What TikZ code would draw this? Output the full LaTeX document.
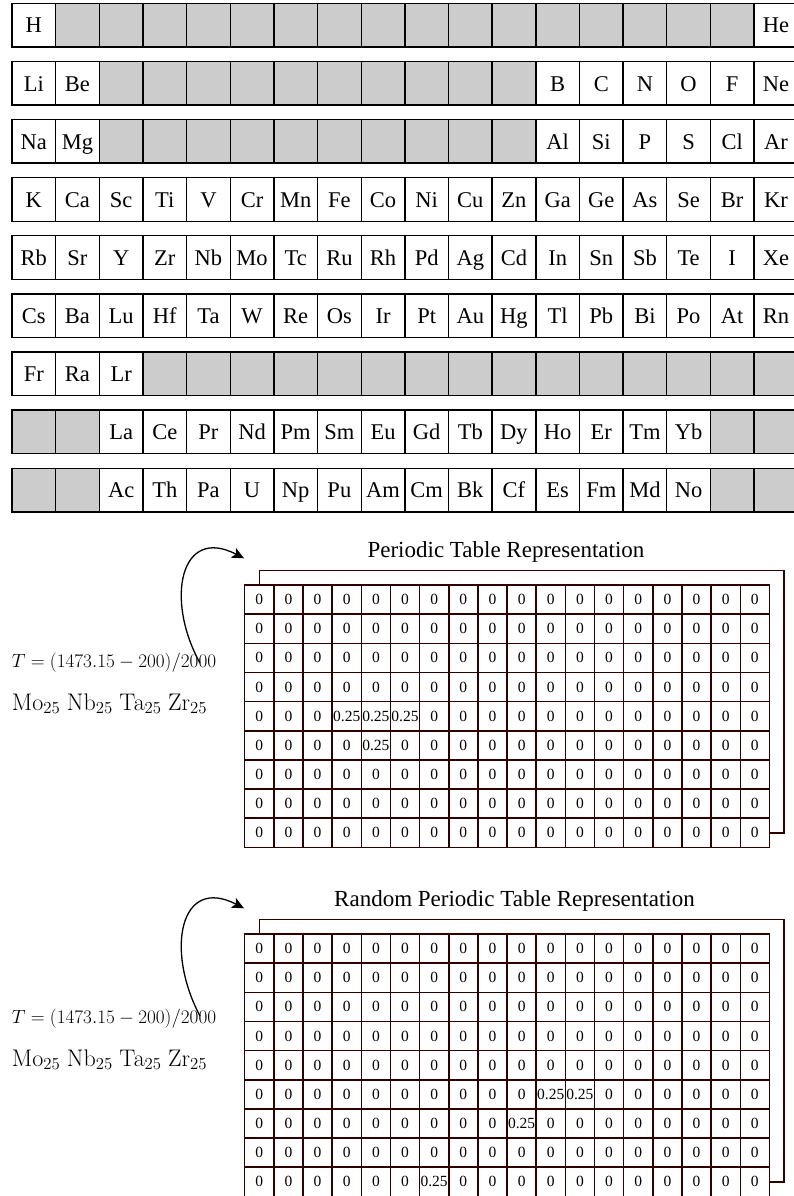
\RequirePackage{fix-cm}
\documentclass[tikz,border=0pt]{standalone}
\usepackage[no-math]{fontspec}
\setmainfont{Liberation Serif}
\usetikzlibrary{arrows.meta}
\definecolor{gridc}{HTML}{2E0000}
\definecolor{shade}{HTML}{CCCCCC}
\def\gcell{x}
\newcommand\ptrow[2]{%
  \foreach \el [count=\c from 0] in {#2}{%
    \ifx\el\gcell
      \node[elem, fill=shade] (pt-#1-\c) at ({12+43.65*(\c+0.5)},{3.3+58.12*#1+21.825}) {};
    \else
      \node[elem] (pt-#1-\c) at ({12+43.65*(\c+0.5)},{3.3+58.12*#1+21.825}) {\el};
    \fi
  }}
\newcommand\quarter[3]{\expandafter\def\csname v#1-#2-#3\endcsname{}}
\newcommand\numgrid[3]{%
  \node[backpanel] (#1-back) at ({#2+14.6+262.35},{#3-14.5+131.175}) {};
  \foreach \r in {0,...,8}{\foreach \c in {0,...,17}{
    \node[numcell] (#1-\r-\c) at ({#2+29.15*(\c+0.5)},{#3+29.15*(\r+0.5)}) {\ifcsname v#1-\r-\c\endcsname 0.25\else 0\fi};
  }}}
\quarter{A}{4}{3}\quarter{A}{4}{4}\quarter{A}{4}{5}\quarter{A}{5}{4}
\quarter{B}{5}{10}\quarter{B}{5}{11}\quarter{B}{6}{9}\quarter{B}{8}{6}
\begin{document}
\begin{tikzpicture}[x=1pt,y=-1pt,
  elem/.style={draw=black, line width=1.4pt, minimum size=43.65pt, inner sep=0pt, outer sep=0pt,
    text height=15.6pt, text depth=0pt, font=\fontsize{22.5}{27}\selectfont},
  numcell/.style={draw=gridc, fill=white, line width=1.5pt, minimum size=29.15pt, inner sep=0pt, outer sep=0pt,
    text height=10pt, text depth=0pt, font=\fontsize{15.5}{18}\selectfont},
  backpanel/.style={draw=gridc, fill=white, line width=1.5pt, minimum width=524.7pt, minimum height=262.35pt, inner sep=0pt, outer sep=0pt},
  title/.style={anchor=base, inner sep=0pt, font=\fontsize{23}{28}\selectfont},
  eqn/.style={anchor=base west, inner sep=0pt, font=\fontsize{19.2}{23}\selectfont},
  formula/.style={anchor=base west, inner sep=0pt, font=\fontsize{24}{28}\selectfont},
  conn/.style={draw=black, line width=1.3pt, -{Stealth[length=12pt,width=11pt,inset=3pt]}}]
\useasboundingbox (0,0) rectangle (794,1196);
% periodic table
\ptrow{0}{H,x,x,x,x,x,x,x,x,x,x,x,x,x,x,x,x,He}
\ptrow{1}{Li,Be,x,x,x,x,x,x,x,x,x,x,B,C,N,O,F,Ne}
\ptrow{2}{Na,Mg,x,x,x,x,x,x,x,x,x,x,Al,Si,P,S,Cl,Ar}
\ptrow{3}{K,Ca,Sc,Ti,V,Cr,Mn,Fe,Co,Ni,Cu,Zn,Ga,Ge,As,Se,Br,Kr}
\ptrow{4}{Rb,Sr,Y,Zr,Nb,Mo,Tc,Ru,Rh,Pd,Ag,Cd,In,Sn,Sb,Te,I,Xe}
\ptrow{5}{Cs,Ba,Lu,Hf,Ta,W,Re,Os,Ir,Pt,Au,Hg,Tl,Pb,Bi,Po,At,Rn}
\ptrow{6}{Fr,Ra,Lr,x,x,x,x,x,x,x,x,x,x,x,x,x,x,x}
\ptrow{7}{x,x,La,Ce,Pr,Nd,Pm,Sm,Eu,Gd,Tb,Dy,Ho,Er,Tm,Yb,x,x}
\ptrow{8}{x,x,Ac,Th,Pa,U,Np,Pu,Am,Cm,Bk,Cf,Es,Fm,Md,No,x,x}
% section A
\node[title] (A-title) at (506,557.3) {Periodic Table Representation};
\numgrid{A}{244.7}{585}
\node[eqn] (A-eq) at (11.7,667) {$T=(1473.15-200)/2000$};
\node[formula] (A-form) at (11.7,710) {$\mathrm{Mo}_{25}\;\mathrm{Nb}_{25}\;\mathrm{Ta}_{25}\;\mathrm{Zr}_{25}$};
\coordinate (A-s) at (200,663);
\coordinate (A-e) at (244,558.3);
\draw[conn] (A-s) .. controls (165,600) and (180,525) .. (A-e);
% section B
\node[title] (B-title) at (514.5,906) {Random Periodic Table Representation};
\numgrid{B}{244.7}{934}
\node[eqn] (B-eq) at (11.7,1023) {$T=(1473.15-200)/2000$};
\node[formula] (B-form) at (11.7,1066) {$\mathrm{Mo}_{25}\;\mathrm{Nb}_{25}\;\mathrm{Ta}_{25}\;\mathrm{Zr}_{25}$};
\coordinate (B-s) at (200,1016);
\coordinate (B-e) at (244,908.3);
\draw[conn] (B-s) .. controls (165,950) and (180,875) .. (B-e);
\end{tikzpicture}
\end{document}
